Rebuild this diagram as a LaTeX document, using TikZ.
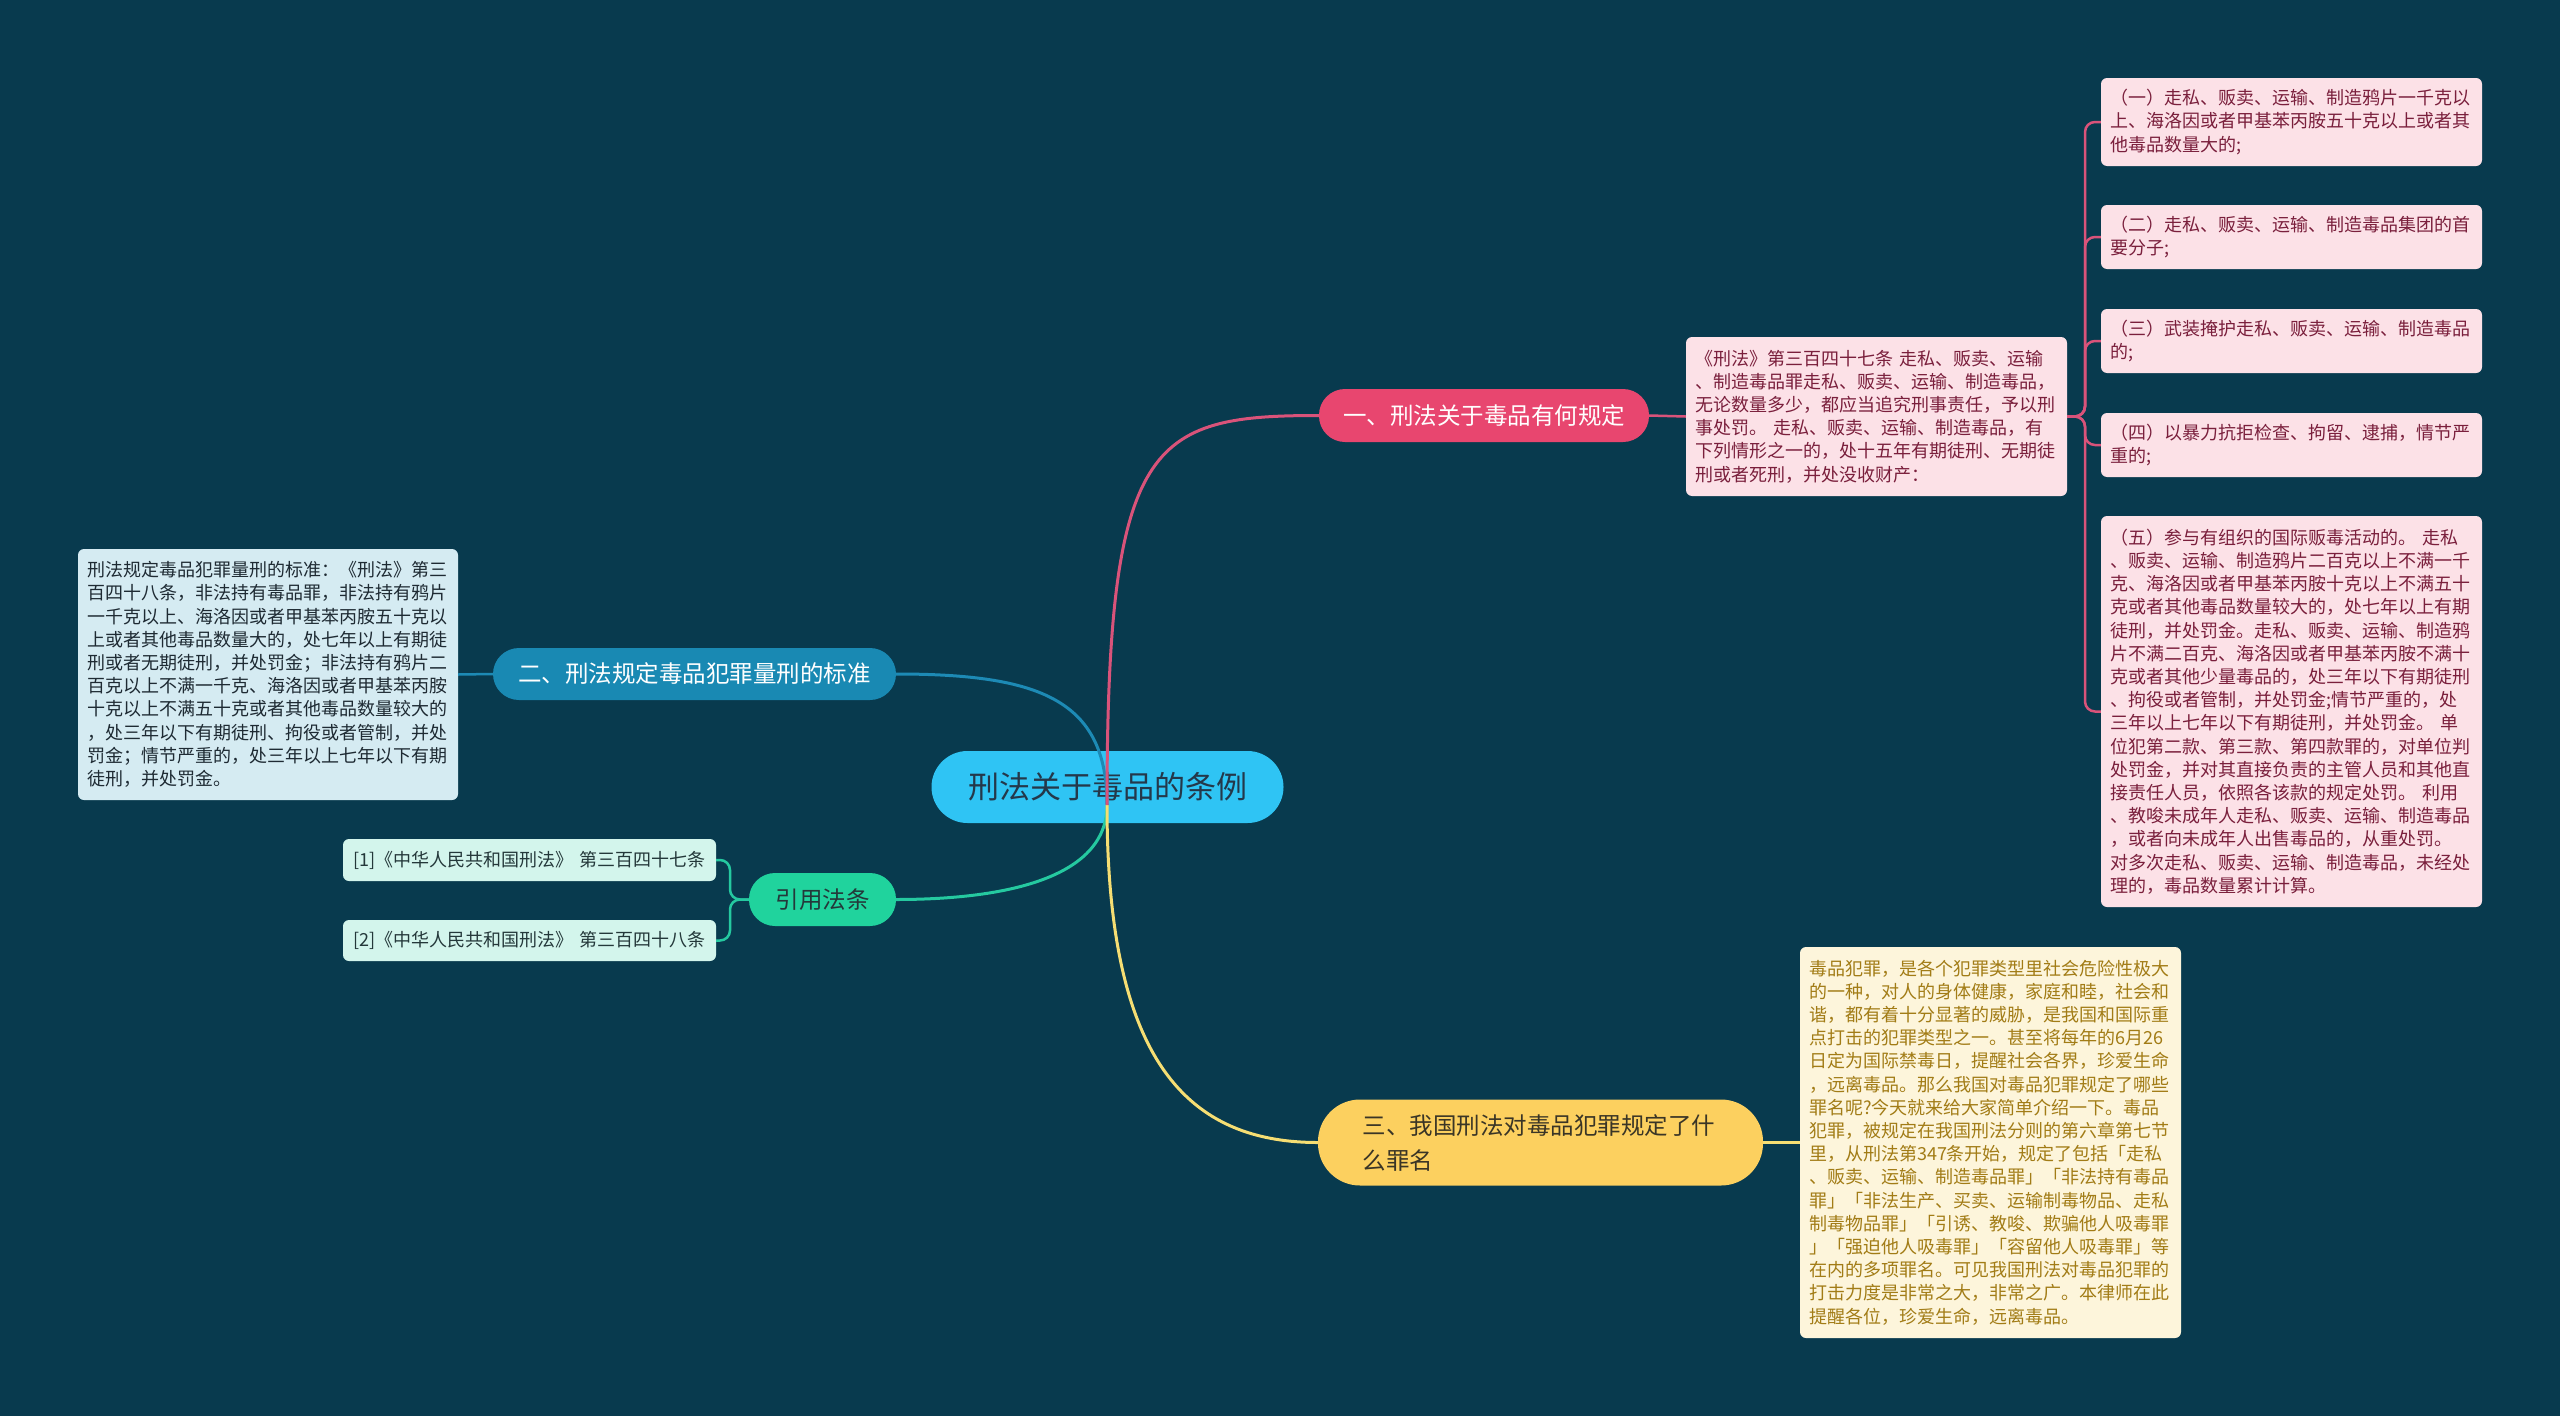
\documentclass[tikz,border=0pt]{standalone}
\usepackage{fontspec}
\setmainfont{Noto Sans CJK SC}
\definecolor{bg}{HTML}{083A4E}
\definecolor{cfill}{HTML}{2FC4F4}
\definecolor{ctext}{HTML}{24384A}
\definecolor{pnode}{HTML}{E8466F}
\definecolor{pline}{HTML}{D9537A}
\definecolor{pleaf}{HTML}{FCE1E7}
\definecolor{ptext}{HTML}{7A1F3C}
\definecolor{bnode}{HTML}{1989B3}
\definecolor{bline}{HTML}{1D8AB5}
\definecolor{bleaf}{HTML}{D5EBF2}
\definecolor{btext}{HTML}{1E2A33}
\definecolor{gnode}{HTML}{20D39D}
\definecolor{gline}{HTML}{25C9A0}
\definecolor{gleaf}{HTML}{D3F5EC}
\definecolor{gtext}{HTML}{24383A}
\definecolor{ynode}{HTML}{FCD05F}
\definecolor{yline}{HTML}{F6DE73}
\definecolor{yleaf}{HTML}{FDF5DB}
\definecolor{ytext}{HTML}{A27C16}
\definecolor{ybtext}{HTML}{3A3526}
\begin{document}
\begin{tikzpicture}[x=1pt,y=-1pt,
  leafbox/.style={rounded corners=6pt, align=left, inner xsep=9pt, inner ysep=0pt,
    font=\fontsize{18}{23.2}\selectfont, text width=363pt},
  topic/.style={inner sep=0pt, font=\fontsize{23.5}{30}\selectfont},
  mainline/.style={line width=3pt},
  leafline/.style={line width=2.5pt, rounded corners=10pt}
]
\useasboundingbox (0,0) rectangle (2560,1416);
\fill[bg] (0,0) rectangle (2560,1416);

% center
\node[fill=cfill, text=ctext, rounded corners=36pt, minimum width=352pt, minimum height=72pt,
  inner sep=0pt, font=\fontsize{31}{36}\selectfont] (c) at (1107.5,787) {刑法关于毒品的条例};
\coordinate (o) at (1107,805);

% topics
\node[topic, fill=pnode, text=white, rounded corners=26pt, minimum width=330pt, minimum height=53pt] (b1) at (1484,415.5) {一、刑法关于毒品有何规定};
\node[topic, fill=bnode, text=white, rounded corners=26pt, minimum width=403pt, minimum height=52pt] (b2) at (694.5,674) {二、刑法规定毒品犯罪量刑的标准};
\node[topic, fill=gnode, text=gtext, rounded corners=26pt, minimum width=147pt, minimum height=53pt] (b3) at (822.5,899.5) {引用法条};
\node[topic, fill=ynode, text=ybtext, rounded corners=42pt, minimum width=445pt, minimum height=86pt,
  align=left, text width=356pt, inner xsep=44.5pt, font=\fontsize{23.5}{35}\selectfont] (b4) at (1540.5,1142.5) {三、我国刑法对毒品犯罪规定了什\\么罪名};

% pink leaves
\node[leafbox, fill=pleaf, text=ptext, minimum height=159pt] (law) at (1876.5,416.5) {《刑法》第三百四十七条 走私、贩卖、运输\\、制造毒品罪走私、贩卖、运输、制造毒品，\\无论数量多少，都应当追究刑事责任，予以刑\\事处罚。 走私、贩卖、运输、制造毒品，有\\下列情形之一的，处十五年有期徒刑、无期徒\\刑或者死刑，并处没收财产：};
\node[leafbox, fill=pleaf, text=ptext, minimum height=88pt] (r1) at (2291.5,122) {（一）走私、贩卖、运输、制造鸦片一千克以\\上、海洛因或者甲基苯丙胺五十克以上或者其\\他毒品数量大的;};
\node[leafbox, fill=pleaf, text=ptext, minimum height=64pt] (r2) at (2291.5,237) {（二）走私、贩卖、运输、制造毒品集团的首\\要分子;};
\node[leafbox, fill=pleaf, text=ptext, minimum height=64pt] (r3) at (2291.5,341) {（三）武装掩护走私、贩卖、运输、制造毒品\\的;};
\node[leafbox, fill=pleaf, text=ptext, minimum height=64pt] (r4) at (2291.5,445) {（四）以暴力抗拒检查、拘留、逮捕，情节严\\重的;};
\node[leafbox, fill=pleaf, text=ptext, minimum height=391pt] (r5) at (2291.5,711.5) {（五）参与有组织的国际贩毒活动的。 走私\\、贩卖、运输、制造鸦片二百克以上不满一千\\克、海洛因或者甲基苯丙胺十克以上不满五十\\克或者其他毒品数量较大的，处七年以上有期\\徒刑，并处罚金。走私、贩卖、运输、制造鸦\\片不满二百克、海洛因或者甲基苯丙胺不满十\\克或者其他少量毒品的，处三年以下有期徒刑\\、拘役或者管制，并处罚金;情节严重的，处\\三年以上七年以下有期徒刑，并处罚金。 单\\位犯第二款、第三款、第四款罪的，对单位判\\处罚金，并对其直接负责的主管人员和其他直\\接责任人员，依照各该款的规定处罚。 利用\\、教唆未成年人走私、贩卖、运输、制造毒品\\，或者向未成年人出售毒品的，从重处罚。\\对多次走私、贩卖、运输、制造毒品，未经处\\理的，毒品数量累计计算。};

% blue leaf
\node[leafbox, fill=bleaf, text=btext, text width=362pt, minimum height=251pt] (lb) at (268,674.5) {刑法规定毒品犯罪量刑的标准：《刑法》第三\\百四十八条，非法持有毒品罪，非法持有鸦片\\一千克以上、海洛因或者甲基苯丙胺五十克以\\上或者其他毒品数量大的，处七年以上有期徒\\刑或者无期徒刑，并处罚金；非法持有鸦片二\\百克以上不满一千克、海洛因或者甲基苯丙胺\\十克以上不满五十克或者其他毒品数量较大的\\，处三年以下有期徒刑、拘役或者管制，并处\\罚金；情节严重的，处三年以上七年以下有期\\徒刑，并处罚金。};

% green leaves
\node[leafbox, fill=gleaf, text=gtext, text width=353pt, inner xsep=10pt, minimum height=42pt] (c1) at (529.5,860) {[1]《中华人民共和国刑法》 第三百四十七条};
\node[leafbox, fill=gleaf, text=gtext, text width=353pt, inner xsep=10pt, minimum height=41pt] (c2) at (529.5,940.5) {[2]《中华人民共和国刑法》 第三百四十八条};

% yellow leaf
\node[leafbox, fill=yleaf, text=ytext, minimum height=391pt] (yb) at (1990.5,1142.5) {毒品犯罪，是各个犯罪类型里社会危险性极大\\的一种，对人的身体健康，家庭和睦，社会和\\谐，都有着十分显著的威胁，是我国和国际重\\点打击的犯罪类型之一。甚至将每年的6月26\\日定为国际禁毒日，提醒社会各界，珍爱生命\\，远离毒品。那么我国对毒品犯罪规定了哪些\\罪名呢?今天就来给大家简单介绍一下。毒品\\犯罪，被规定在我国刑法分则的第六章第七节\\里，从刑法第347条开始，规定了包括「走私\\、贩卖、运输、制造毒品罪」「非法持有毒品\\罪」「非法生产、买卖、运输制毒物品、走私\\制毒物品罪」「引诱、教唆、欺骗他人吸毒罪\\」「强迫他人吸毒罪」「容留他人吸毒罪」等\\在内的多项罪名。可见我国刑法对毒品犯罪的\\打击力度是非常之大，非常之广。本律师在此\\提醒各位，珍爱生命，远离毒品。};

% main curves
\draw[mainline, bline] (o) .. controls (1107,700) and (1040,674) .. (b2.east);
\draw[mainline, gline] (o) .. controls (1107,880) and (1000,899.5) .. (b3.east);
\draw[mainline, yline] (o) .. controls (1107,1050) and (1180,1142.5) .. (b4.west);
\draw[mainline, pline] (o) .. controls (1107,440) and (1150,415.5) .. (b1.west);

% leaf connectors
\coordinate (pj) at (2085,416.5);
\coordinate (gj) at (730,899.5);
\draw[leafline, pline] (b1.east) -- (law.west);
\foreach \r in {r1,r2,r3,r4,r5}{
  \draw[leafline, pline] (law.east) -- (pj) |- (\r.west);
}
\draw[leafline, bline] (b2.west) -- (lb.east);
\draw[leafline, gline] (b3.west) -- (gj) |- (c1.east);
\draw[leafline, gline] (b3.west) -- (gj) |- (c2.east);
\draw[leafline, yline] (b4.east) -- (yb.west);
\end{tikzpicture}
\end{document}
